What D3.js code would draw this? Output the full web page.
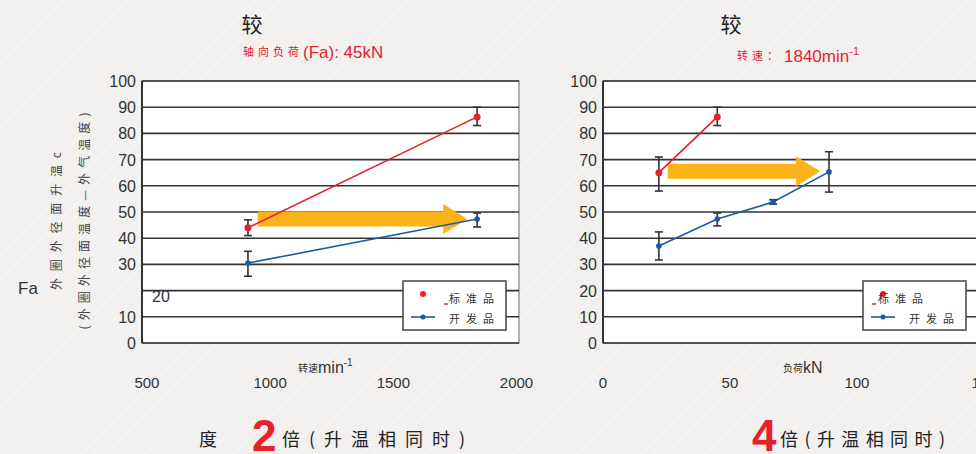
<!DOCTYPE html>
<html>
<head>
<meta charset="utf-8">
<script src="https://cdn.jsdelivr.net/npm/d3@7"></script>
<style>
  body { margin: 0; background: #f1f0ef; }
  svg { display: block; }
  text { font-family: "Liberation Sans", Arial, sans-serif; }
  .cjk { font-family: "Noto Sans CJK SC", sans-serif; }
</style>
</head>
<body>
<svg id="chart" width="976" height="454"></svg>
<script>
// y axis (shared)
const yTicks = [0, 10, 20, 30, 40, 50, 60, 70, 80, 90, 100];

// left panel: speed (min^-1) vs temperature rise
const speedTicks = [500, 1000, 1500, 2000];
const speedStdX = [910, 1840];
const speedStd = [44, 86.3];
const speedStdLo = [41, 83];
const speedStdHi = [47, 90];
const speedDevX = [910, 1840];
const speedDev = [30.5, 47.3];
const speedDevLo = [25.5, 44.3];
const speedDevHi = [35, 49.6];
const speedArrow = [950, 1800, 47.3]; // x start, x tip, y

// right panel: load (kN) vs temperature rise
const loadTicks = [0, 50, 100, 150];
const loadStdX = [22, 45];
const loadStd = [65, 86.3];
const loadStdLo = [58, 83];
const loadStdHi = [71, 90];
const loadDevX = [22, 45, 67, 89];
const loadDev = [37, 47.3, 53.8, 65.3];
const loadDevLo = [31.7, 44.7, 53, 57.6];
const loadDevHi = [42.4, 49.6, 54.7, 73];
const loadArrow = [25.5, 85.5, 65.6];

const RED = '#e8202a';
const BLUE = '#1c5aa6';
const ORANGE = '#f8b418';
const GRID = '#333';

const svg = d3.select('#chart');

// faint diagonal stripes in the background
const defs = svg.append('defs');
const pat = defs.append('pattern')
  .attr('id', 'stripes')
  .attr('width', 9).attr('height', 9)
  .attr('patternUnits', 'userSpaceOnUse')
  .attr('patternTransform', 'rotate(-45)');
pat.append('rect').attr('width', 9).attr('height', 9).attr('fill', '#f1f0ef');
pat.append('line').attr('x1', 0).attr('y1', 0).attr('x2', 9).attr('y2', 0)
  .attr('stroke', '#f7f6f5').attr('stroke-width', 2);
svg.append('rect').attr('width', 976).attr('height', 454).attr('fill', 'url(#stripes)');

const y = d3.scaleLinear().domain([0, 100]).range([343, 81]);

function panel(opts) {
  const x = d3.scaleLinear().domain(opts.domain).range(opts.range);
  const [x0, x1] = opts.range;
  const g = svg.append('g');

  // plot area
  g.append('rect')
    .attr('x', x0).attr('y', y(100))
    .attr('width', x1 - x0).attr('height', y(0) - y(100))
    .attr('fill', '#fff')
    .attr('stroke', '#999').attr('stroke-width', 1.5);

  // grid lines
  g.selectAll('.grid')
    .data(yTicks)
    .enter()
    .append('line')
    .attr('x1', x0).attr('x2', x1)
    .attr('y1', (d) => y(d)).attr('y2', (d) => y(d))
    .attr('stroke', GRID)
    .attr('stroke-width', 1.6);

  g.append('line')
    .attr('x1', x0).attr('x2', x0)
    .attr('y1', y(100)).attr('y2', y(0))
    .attr('stroke', GRID).attr('stroke-width', 2);

  // y tick labels
  g.selectAll('.ytick')
    .data(yTicks.filter((d) => !opts.skipY.includes(d)))
    .enter()
    .append('text')
    .attr('x', x0 - 6)
    .attr('y', (d) => y(d) + 6)
    .attr('text-anchor', 'end')
    .attr('font-size', 16)
    .attr('fill', '#333')
    .text((d) => d);

  // x tick labels
  g.selectAll('.xtick')
    .data(opts.ticks)
    .enter()
    .append('text')
    .attr('x', (d) => x(d))
    .attr('y', 388)
    .attr('text-anchor', 'middle')
    .attr('font-size', 15)
    .attr('fill', '#333')
    .text((d) => d);

  // arrow
  const [ax0, ax1, ay] = opts.arrow;
  const cy = y(ay);
  const sx = x(ax0);
  const tx = x(ax1);
  const hb = tx - 24;
  g.append('path')
    .attr('d', `M${sx},${cy - 7.5}L${hb},${cy - 7.5}L${hb},${cy - 15}L${tx},${cy}` +
      `L${hb},${cy + 15}L${hb},${cy + 7.5}L${sx},${cy + 7.5}Z`)
    .attr('fill', ORANGE);

  // series
  opts.series.forEach((s) => {
    const pts = s.x.map((d, i) => ({ x: d, v: s.v[i], lo: s.lo[i], hi: s.hi[i] }));
    g.append('path')
      .datum(pts)
      .attr('fill', 'none')
      .attr('stroke', s.color)
      .attr('stroke-width', 1.6)
      .attr('d', d3.line().x((d) => x(d.x)).y((d) => y(d.v)));

    const eb = g.selectAll(null).data(pts).enter().append('g').attr('stroke', '#333').attr('stroke-width', 1.6);
    eb.append('line')
      .attr('x1', (d) => x(d.x)).attr('x2', (d) => x(d.x))
      .attr('y1', (d) => y(d.lo)).attr('y2', (d) => y(d.hi));
    eb.append('line')
      .attr('x1', (d) => x(d.x) - 4).attr('x2', (d) => x(d.x) + 4)
      .attr('y1', (d) => y(d.lo)).attr('y2', (d) => y(d.lo));
    eb.append('line')
      .attr('x1', (d) => x(d.x) - 4).attr('x2', (d) => x(d.x) + 4)
      .attr('y1', (d) => y(d.hi)).attr('y2', (d) => y(d.hi));

    g.selectAll(null)
      .data(pts)
      .enter()
      .append('circle')
      .attr('cx', (d) => x(d.x))
      .attr('cy', (d) => y(d.v))
      .attr('r', s.r)
      .attr('fill', s.color);
  });

  // legend
  const lg = g.append('g').attr('transform', `translate(${opts.legend[0]},${opts.legend[1]})`);
  lg.append('rect')
    .attr('width', 103).attr('height', 49)
    .attr('fill', '#fff')
    .attr('stroke', '#444').attr('stroke-width', 1.5);
  lg.append('circle').attr('cx', 20).attr('cy', 13).attr('r', 3).attr('fill', RED);
  lg.append('line').attr('x1', opts.dashX).attr('x2', opts.dashX + 4)
    .attr('y1', 23).attr('y2', 23).attr('stroke', RED).attr('stroke-width', 1.5);
  lg.append('text').attr('class', 'cjk')
    .attr('x', opts.stdX).attr('y', 22)
    .attr('font-size', 11).attr('fill', '#333')
    .attr('letter-spacing', 6)
    .text('标准品');
  lg.append('line').attr('x1', 8).attr('x2', 32).attr('y1', 36).attr('y2', 36)
    .attr('stroke', BLUE).attr('stroke-width', 1.6);
  lg.append('circle').attr('cx', 20).attr('cy', 36).attr('r', 2.5).attr('fill', BLUE);
  lg.append('text').attr('class', 'cjk')
    .attr('x', opts.devX).attr('y', 42)
    .attr('font-size', 11).attr('fill', '#333')
    .attr('letter-spacing', 6)
    .text('开发品');

  // x axis title
  const xt = g.append('text')
    .attr('x', opts.xTitle[0]).attr('y', 373)
    .attr('font-size', 16).attr('fill', '#333');
  xt.append('tspan').attr('class', 'cjk').attr('font-size', 10).attr('dy', -1).text(opts.xTitle[1]);
  xt.append('tspan').attr('dy', 1).text(opts.xTitle[2]);
  if (opts.xTitle[3]) {
    xt.append('tspan').attr('font-size', 10).attr('dy', -7).text(opts.xTitle[3]);
  }

  // title
  g.append('text').attr('class', 'cjk')
    .attr('x', opts.title[0]).attr('y', 32)
    .attr('text-anchor', 'middle')
    .attr('font-size', 21).attr('fill', '#222')
    .text('较');

  return { x, g };
}

panel({
  domain: [480, 2010],
  range: [142, 519],
  ticks: speedTicks,
  skipY: [20],
  arrow: speedArrow,
  series: [
    { x: speedStdX, v: speedStd, lo: speedStdLo, hi: speedStdHi, color: RED, r: 3.5 },
    { x: speedDevX, v: speedDev, lo: speedDevLo, hi: speedDevHi, color: BLUE, r: 2.8 },
  ],
  legend: [403, 281],
  dashX: 41,
  stdX: 46,
  devX: 46,
  xTitle: [298, '转速', 'min', '-1'],
  title: [252],
});

panel({
  domain: [0, 152.4],
  range: [603, 990],
  ticks: loadTicks,
  skipY: [],
  arrow: loadArrow,
  series: [
    { x: loadStdX, v: loadStd, lo: loadStdLo, hi: loadStdHi, color: RED, r: 3.5 },
    { x: loadDevX, v: loadDev, lo: loadDevLo, hi: loadDevHi, color: BLUE, r: 2.8 },
  ],
  legend: [863, 281],
  dashX: 9,
  stdX: 15,
  devX: 46,
  xTitle: [783, '负荷', 'kN'],
  title: [731],
});

// stray "20" label inside the left plot
svg.append('text')
  .attr('x', 152).attr('y', y(20) + 11)
  .attr('font-size', 16).attr('fill', '#333')
  .text('20');

// left y axis title
svg.append('text')
  .attr('x', 18).attr('y', 294)
  .attr('font-size', 17).attr('fill', '#333')
  .text('Fa');
svg.append('text').attr('class', 'cjk')
  .attr('transform', 'translate(61,221) rotate(-90)')
  .attr('text-anchor', 'middle')
  .attr('font-size', 12).attr('fill', '#444')
  .attr('textLength', 138).attr('lengthAdjust', 'spacing')
  .text('外圈外径面升温c');
svg.append('text').attr('class', 'cjk')
  .attr('transform', 'translate(89,221) rotate(-90)')
  .attr('text-anchor', 'middle')
  .attr('font-size', 12).attr('fill', '#444')
  .attr('textLength', 217).attr('lengthAdjust', 'spacing')
  .text('(外圈外径面温度—外气温度)');

// red subtitles
const s1 = svg.append('text').attr('x', 243).attr('y', 58).attr('fill', RED).attr('font-size', 17);
s1.append('tspan').attr('class', 'cjk').attr('font-size', 11).attr('letter-spacing', 4).attr('dy', -2).text('轴向负荷');
s1.append('tspan').attr('dy', 2).text('(Fa):  45kN');

const s2 = svg.append('text').attr('x', 737).attr('y', 62).attr('fill', RED).attr('font-size', 17);
s2.append('tspan').attr('class', 'cjk').attr('font-size', 11).attr('letter-spacing', 4).attr('dy', -2).text('转速：');
s2.append('tspan').attr('dy', 2).attr('dx', 2).text('1840min');
s2.append('tspan').attr('font-size', 11).attr('dy', -7).text('-1');

// bottom captions
function caption(numX, num, tailX, tailLen, pre) {
  if (pre) {
    svg.append('text').attr('class', 'cjk')
      .attr('x', pre[0]).attr('y', 446)
      .attr('font-size', 18).attr('fill', '#222')
      .text(pre[1]);
  }
  svg.append('text')
    .attr('x', numX).attr('y', 451)
    .attr('font-size', 44).attr('font-weight', 'bold').attr('fill', RED)
    .text(num);
  svg.append('text').attr('class', 'cjk')
    .attr('x', tailX).attr('y', 446)
    .attr('font-size', 18).attr('fill', '#222')
    .attr('textLength', tailLen).attr('lengthAdjust', 'spacing')
    .text('倍(升温相同时)');
}
caption(252, '2', 282, 183, [199, '度']);
caption(752, '4', 780, 165, null);
</script>
</body>
</html>
